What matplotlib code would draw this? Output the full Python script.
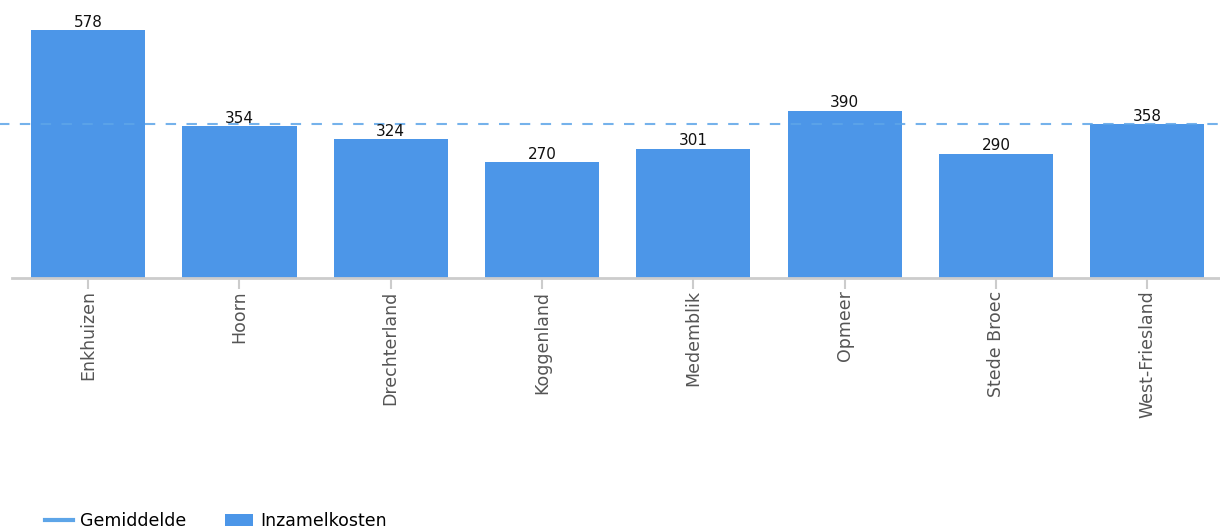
import matplotlib.pyplot as plt
from matplotlib.lines import Line2D
from matplotlib.patches import Patch

# --- Data ---
gemeenten = ["Enkhuizen", "Hoorn", "Drechterland", "Koggenland",
             "Medemblik", "Opmeer", "Stede Broec", "West-Friesland"]
inzamelkosten = [578, 354, 324, 270, 301, 390, 290, 358]
gemiddelde = 358

bar_color = "#4C96E8"
avg_color = "#5DA5E8"

fig = plt.figure(figsize=(12.2, 5.32), dpi=100)
ax = fig.add_axes([12 / 1220, (532 - 278) / 532, 1208 / 1220, 278 / 532])

x = list(range(len(gemeenten)))
ax.bar(x, inzamelkosten, width=0.755, color=bar_color, zorder=2)

# average line over the full width, semi-transparent over the bars
ax.plot([-0.6, len(gemeenten) - 0.45], [gemiddelde, gemiddelde],
        color=avg_color, linewidth=1.5, alpha=0.85,
        linestyle=(0, (5, 5)), zorder=3, clip_on=False)

for xi, v in zip(x, inzamelkosten):
    ax.text(xi, v + 1, str(v), ha="center", va="bottom",
            fontsize=11, color="#111111", zorder=4)

ax.set_xlim(-0.503, 7.481)
ax.set_ylim(0, 648)

ax.set_xticks(x)
ax.set_xticklabels(gemeenten, rotation=90, fontsize=12.5, color="#555555")
ax.tick_params(axis="x", length=8, width=1.5, color="#cccccc", pad=1)
ax.set_yticks([])

for side in ["top", "right", "left"]:
    ax.spines[side].set_visible(False)
ax.spines["bottom"].set_color("#cccccc")
ax.spines["bottom"].set_linewidth(2)

handles = [
    Line2D([0], [0], color=avg_color, linewidth=3),
    Patch(facecolor=bar_color, edgecolor="none"),
]
fig.legend(handles, ["Gemiddelde", "Inzamelkosten"], loc="lower left",
           bbox_to_anchor=(0.024, -0.026), ncol=2, frameon=False,
           fontsize=12.5, handlelength=1.6, handletextpad=0.45,
           columnspacing=2.2)

fig.savefig("out.png", dpi=100)
